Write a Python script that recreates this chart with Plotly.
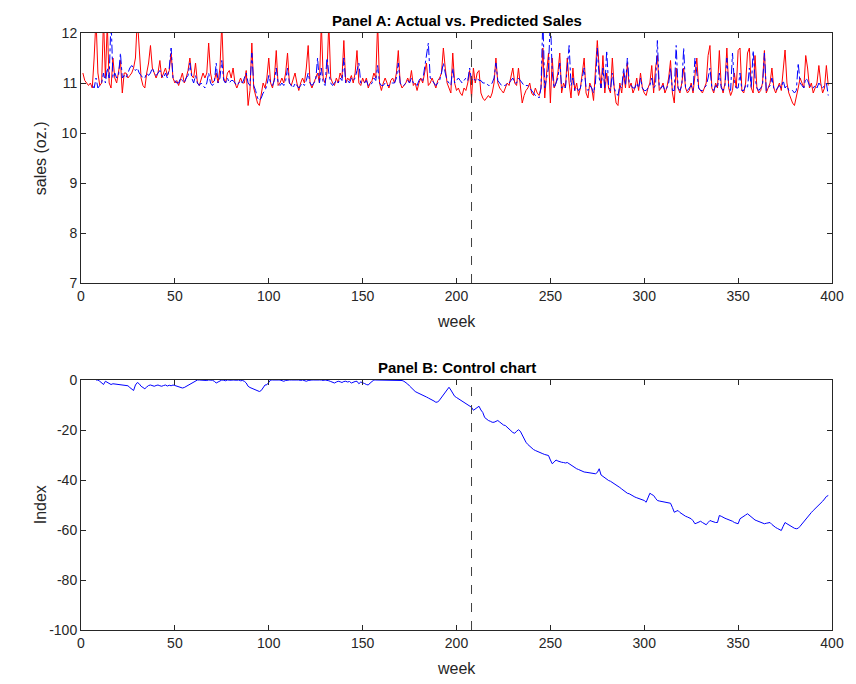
import plotly.graph_objects as go

# ---------------- data ----------------
actual_start = 1
actual = [
    11.2, 11.05, 11.0, 10.95, 11.0, 10.9, 11.5, 12.3, 11.2, 10.95,
    11.0, 12.3, 11.1, 12.2, 11.0, 10.9, 11.5, 11.1, 11.0, 11.2,
    11.45, 10.8, 11.2, 11.2, 11.1, 11.15, 11.2, 11.3, 11.5, 12.3,
    11.6, 11.1, 10.95, 10.9, 11.2, 11.4, 11.75, 11.3, 11.2, 11.1,
    11.2, 11.45, 11.1, 11.2, 11.3, 11.15, 11.25, 11.6, 11.1, 11.0,
    11.05, 10.95, 11.1, 11.2, 11.0, 11.1, 11.25, 11.5, 11.15, 11.1,
    11.4, 11.0, 10.95, 11.1, 11.2, 11.1, 11.2, 11.8, 11.2, 11.0,
    11.05, 11.2, 11.0, 11.3, 12.2, 11.1, 11.0, 11.2, 11.25, 11.1,
    11.3, 11.0, 10.9, 11.0, 11.1, 11.0, 11.0, 11.25, 10.55, 10.85,
    11.8, 10.9, 10.75, 10.6, 10.55, 10.8, 11.0, 10.9, 11.1, 11.5,
    11.0, 10.9, 11.1, 11.65, 10.95, 11.0, 11.1, 11.0, 11.2, 11.6,
    11.0, 10.95, 11.1, 11.2, 11.0, 10.85, 11.0, 11.1, 11.0, 11.3,
    11.75, 11.0, 10.9, 11.0, 11.1, 11.2, 11.0, 12.2, 11.1, 11.0,
    11.2, 12.2, 11.1, 11.0, 10.95, 11.1, 11.0, 11.2, 11.1, 11.85,
    11.0, 11.1, 11.05, 11.15, 11.0, 11.2, 11.65, 11.0, 10.95, 11.1,
    11.0, 11.1, 10.9, 11.0, 11.05, 11.2, 11.1, 12.2, 11.0, 10.85,
    11.0, 11.1, 11.0, 10.9, 11.05, 11.1, 11.0, 11.2, 11.65, 11.0,
    10.9, 10.95, 11.0, 11.1, 11.0, 11.25, 10.95, 11.0, 10.85, 11.0,
    11.1, 11.0, 11.2, 11.4, 10.95, 11.0, 11.1, 11.0, 10.9, 11.05,
    11.1, 11.2, 11.7, 11.3, 11.0, 10.9, 10.8, 11.6, 11.0, 10.85,
    10.9, 10.8, 10.75, 10.9, 10.85, 11.0, 11.25, 10.7, 11.3, 11.0,
    11.2, 11.25, 10.8, 10.7, 10.65, 10.7, 10.75, 10.7, 10.8, 11.0,
    11.5, 11.0, 10.9, 10.85, 10.8, 10.9, 11.0, 10.95, 11.1, 11.3,
    11.0, 10.95, 11.3, 10.9, 10.6, 10.75, 10.85, 10.9, 11.0, 10.8,
    10.75, 10.9, 10.8, 10.75, 10.9, 11.7, 10.7, 11.2, 11.6, 10.6,
    11.5, 10.9, 11.0, 11.2, 11.6, 10.8, 11.0, 10.9, 11.5, 11.0,
    10.7, 11.3, 10.85, 11.0, 10.75, 10.9, 11.2, 11.5, 10.8, 10.7,
    11.0, 10.9, 10.65, 11.2, 11.85, 11.3, 10.9, 11.55, 10.8, 11.2,
    10.9, 10.8, 11.5, 10.9, 10.6, 10.55, 11.0, 10.8, 11.2, 10.9,
    11.4, 10.9, 11.0, 10.8, 10.9, 11.1, 10.85, 11.2, 10.9, 10.8,
    10.75, 10.9, 11.0, 11.35, 10.8, 11.3, 11.55, 10.85, 10.9, 11.0,
    10.8, 10.9, 11.1, 11.45, 10.8, 10.6, 11.3, 10.9, 10.8, 11.0,
    11.3, 10.9, 10.8, 10.85, 11.0, 10.8, 11.2, 11.5, 10.9, 10.85,
    10.8, 10.9, 11.0, 11.55, 11.75, 10.9, 10.8, 11.0, 10.9, 11.65,
    10.95, 10.8, 11.0, 11.7, 10.9, 10.75, 10.85, 11.2, 10.9, 11.65,
    11.7, 10.85, 10.8, 11.0, 11.6, 11.7, 10.9, 10.8, 11.55, 10.9,
    10.8, 10.85, 11.0, 11.65, 10.8, 10.9, 11.0, 11.3, 10.9, 10.8,
    10.9, 11.0, 10.85, 11.3, 11.66, 11.0, 10.8, 10.7, 10.6, 10.55,
    10.7, 10.9, 11.1, 11.0, 10.9, 11.55, 11.3, 10.9, 11.0, 10.8,
    10.9, 11.0, 11.35, 11.0, 10.8, 10.9, 11.35, 10.95,
]

predicted_start = 6
predicted = [
    10.95, 10.9, 11.1, 10.9, 10.95,
    11.0, 11.2, 11.0, 11.3, 11.1, 12.3, 11.1, 11.2, 11.1, 11.15,
    11.6, 11.1, 11.15, 11.1, 11.2, 11.3, 11.35, 11.3, 11.25, 11.3,
    11.2, 11.15, 11.1, 11.1, 11.2, 11.15, 11.2, 11.3, 11.2, 11.15,
    11.2, 11.25, 11.15, 11.1, 11.2, 11.1, 11.3, 11.7, 11.1, 11.05,
    11.0, 11.0, 11.1, 11.05, 11.0, 11.1, 11.15, 11.4, 11.1, 11.0,
    11.15, 11.0, 10.95, 11.0, 10.95, 10.9, 11.0, 11.2, 11.0, 10.95,
    11.0, 11.4, 11.0, 11.1, 11.45, 11.05, 11.0, 11.1, 11.0, 11.05,
    11.05, 11.0, 10.95, 11.0, 11.05, 11.0, 11.1, 11.2, 11.0, 10.95,
    11.6, 10.95, 10.85, 10.7, 10.65, 10.7, 10.8, 10.85, 10.95, 11.15,
    11.0, 10.95, 11.05, 11.3, 11.0, 10.95, 11.0, 10.95, 11.05, 11.3,
    11.0, 10.95, 10.9, 11.0, 10.95, 10.9, 10.95, 11.0, 10.95, 11.05,
    11.2, 11.0, 10.95, 11.0, 11.05, 11.5, 11.0, 11.3, 11.0, 10.95,
    11.5, 11.2, 11.0, 10.95, 11.0, 11.05, 11.0, 11.1, 11.05, 11.5,
    11.0, 11.05, 11.0, 11.1, 11.05, 11.1, 11.25, 11.4, 11.0, 11.0,
    11.0, 11.05, 10.95, 10.95, 11.0, 11.1, 11.05, 11.35, 11.0, 10.95,
    10.95, 11.0, 10.95, 10.95, 11.0, 11.0, 11.0, 11.1, 11.4, 11.0,
    10.95, 10.95, 11.0, 11.05, 11.0, 11.1, 11.0, 11.0, 10.95, 11.05,
    11.1, 11.05, 11.3, 11.6, 11.8, 11.1, 11.05, 11.0, 10.95, 11.0,
    11.05, 11.2, 11.4, 11.2, 11.05, 11.0, 10.95, 11.3, 11.0, 11.05,
    11.1, 11.05, 11.0, 11.05, 11.1, 11.05, 11.3, 11.05, 11.1, 11.05,
    11.1, 11.05, 11.05, 11.0, 11.0, 11.0, 10.95, 10.95, 11.0, 11.1,
    11.4, 11.05, 11.0, 10.95, 10.95, 10.95, 11.0, 11.0, 11.05, 11.1,
    11.0, 11.0, 11.1, 11.05, 11.0, 10.95, 10.95, 10.95, 10.9, 10.85,
    10.8, 10.75, 10.75, 10.7, 10.9, 12.3, 10.9, 11.1, 11.3, 12.3,
    11.2, 10.9, 11.0, 11.1, 11.4, 10.9, 10.95, 10.9, 11.3, 11.75,
    10.95, 11.1, 10.85, 10.9, 10.85, 10.9, 11.1, 11.3, 10.9, 10.85,
    10.95, 10.9, 10.8, 11.0, 11.7, 11.1, 10.9, 11.3, 10.9, 11.65,
    10.95, 10.85, 11.2, 10.9, 10.8, 10.75, 10.95, 10.9, 11.3, 10.95,
    11.5, 11.0, 10.95, 10.9, 10.9, 11.0, 10.9, 11.1, 10.9, 10.85,
    10.85, 10.9, 10.95, 11.1, 10.9, 10.95, 11.85, 10.9, 10.9, 10.95,
    10.85, 10.9, 11.0, 11.3, 10.85, 10.85, 11.75, 10.9, 10.85, 10.95,
    11.7, 10.9, 10.85, 10.9, 10.95, 10.85, 11.5, 11.2, 10.9, 10.85,
    10.85, 10.9, 10.95, 11.1, 11.3, 10.9, 10.85, 10.95, 10.9, 11.2,
    10.9, 10.85, 10.95, 11.5, 10.9, 10.85, 11.6, 11.0, 10.9, 10.9,
    11.2, 10.85, 10.85, 10.95, 10.9, 11.3, 10.9, 11.65, 11.1, 10.9,
    10.85, 10.9, 10.95, 11.6, 10.85, 10.9, 10.95, 11.1, 10.9, 10.85,
    10.9, 10.95, 10.9, 11.05, 10.9, 10.95, 10.85, 10.85, 10.85, 10.8,
    10.85, 11.4, 11.0, 10.95, 10.9, 11.1, 11.05, 10.95, 10.9, 10.9,
    10.95, 10.9, 11.0, 10.95, 10.9, 10.95, 11.0, 10.75,
]

control_start = 8
control = [
    0, 0, -0.5, -1, -1.8, -0.5, -1, -1.5, -1.8, -1.5, -1.6, -1.8, -1.7,
    -1.8, -2, -2.2, -2.3, -2.3, -3, -3.8, -4.2, -2, -1,
    -1.5, -2.5, -3, -3.5, -2.8, -2.2, -2, -2.2, -2.5, -2.2,
    -2, -2.3, -2.5, -2.2, -2, -2.4, -2.1, -2.3, -2, -2.2,
    -2.5, -2.8, -3, -3.2, -3, -2.6, -2.2, -1.6, -1.2, -0.8,
    -0.3, 0, 0, -0.1, 0, 0, -0.2, 0, 0, -0.1,
    -0.5, -1.2, -0.8, -0.4, 0, -0.1, -0.3, 0, -0.2, -0.1,
    0, -0.2, -0.1, 0, -0.3, -0.2, -0.5, -1.2, -2.5, -3,
    -3.3, -3.6, -4, -4.4, -4.6, -4.2, -3.2, -2, -1.9, -0.8,
    0, 0, -0.1, 0, 0, 0, -0.3, -0.5, -0.2, 0,
    0, 0, -0.1, 0, 0, 0, -0.2, 0, -0.3, -0.5,
    -0.2, 0, 0, 0, -0.1, 0, 0, 0, -0.2, 0,
    0, -0.3, -0.6, -1, -1.2, -0.8, -0.5, -0.7, -1, -0.6,
    -0.5, -0.8, -0.6, -1.2, -0.8, -0.6, -0.5, -1.5, -0.8, -1,
    -1.4, -1.8, -2, -1.2, -0.5, 0, 0, 0, -0.2, 0,
    0, -0.1, 0, 0, -0.2, 0, 0, 0, 0, 0,
    -0.2, -0.5, -1, -1.6, -2.4, -3.2, -4, -4.6, -5, -5.3,
    -5.6, -6, -6.3, -6.8, -7.2, -7.5, -8, -8.4, -8.9, -8.8,
    -8, -7, -6, -5, -3.6, -2.9, -4, -5.5, -6.5, -7,
    -7.5, -8, -8.5, -8.9, -9.5, -10, -10.5, -10.9, -12.1, -11.5,
    -11, -10.5, -12, -13, -15, -15.8, -16.2, -16.5, -16.9, -16.9,
    -16.5, -16.2, -16.8, -17.5, -18, -18.2, -18.8, -19.5, -20.3, -21,
    -21.3, -20.5, -19.9, -20.5, -22, -23.5, -24.9, -25.8, -26.6, -27.2,
    -27.8, -28.2, -28.6, -29, -29.3, -29.5, -29.8, -30, -30.2, -32,
    -33.5, -32.8, -32, -32.4, -32.8, -32.9, -33, -33.2, -33, -33.5,
    -34, -34.6, -35.2, -35.5, -35.8, -36.2, -36.5, -36.8, -36.9, -37,
    -37.2, -37.4, -37.5, -37.5, -37, -35.5, -38, -38.6, -39.3, -39.8,
    -40.2, -40.5, -41, -41.4, -41.8, -42.2, -43, -43.6, -44.2, -44.8,
    -45.3, -45.5, -46, -46.5, -46.8, -47.1, -47.4, -47.7, -48, -48.2,
    -48.9, -47, -45.3, -45.8, -46.2, -47.3, -48.2, -48.4, -48.6, -48.8,
    -49, -49.1, -49.2, -49.3, -51, -52.9, -52.5, -52.2, -53, -53.6,
    -54.2, -54.5, -54.8, -55.1, -55.5, -56.3, -57.5, -57.2, -56.8, -56.5,
    -57, -57.5, -57.9, -57, -56.2, -56.5, -56.8, -57, -57, -54.2,
    -54.5, -55, -55.3, -55.6, -55.8, -56, -56.5, -57, -57.3, -57.5,
    -55.5, -54.9, -54.5, -54, -53.5, -54.2, -55, -55.5, -56, -56.3,
    -56.6, -56.9, -57.2, -57.5, -57.3, -57.1, -57, -57.8, -58.5, -59,
    -59.4, -59.8, -60.2, -58.5, -57, -57.5, -58, -58.5, -59, -59.3,
    -59.5, -59.3, -58.5, -57.5, -56.5, -55.5, -54.6, -53.8, -53, -52.2,
    -51.5, -50.8, -50, -49.5, -48.5, -47.6, -46.6, -46.2,
]

break_week = 208
x_ticks = [0, 50, 100, 150, 200, 250, 300, 350, 400]
x_labels = ["0", "50", "100", "150", "200", "250", "300", "350", "400"]
yA_ticks = [7, 8, 9, 10, 11, 12]
yA_labels = ["7", "8", "9", "10", "11", "12"]
yB_ticks = [0, -20, -40, -60, -80, -100]
yB_labels = ["0", "-20", "-40", "-60", "-80", "-100"]

weeks_actual = list(range(actual_start, actual_start + len(actual)))
weeks_pred = list(range(predicted_start, predicted_start + len(predicted)))
weeks_ctrl = list(range(control_start, control_start + len(control)))

# ---------------- figure ----------------
FONT = "Liberation Sans, Arial, Helvetica, sans-serif"
AXC = "#262626"

fig = go.Figure()
fig.add_trace(go.Scatter(x=weeks_actual, y=actual, mode="lines",
                         line=dict(color="#ff0000", width=1),
                         xaxis="x", yaxis="y", showlegend=False))
fig.add_trace(go.Scatter(x=weeks_pred, y=predicted, mode="lines",
                         line=dict(color="#0000ff", width=1, dash="dashdot"),
                         xaxis="x", yaxis="y", showlegend=False))
fig.add_trace(go.Scatter(x=weeks_ctrl, y=control, mode="lines",
                         line=dict(color="#0000ff", width=1),
                         xaxis="x2", yaxis="y2", showlegend=False))

L, R, T, B = 81, 19, 33, 54
W = 856 - L - R
H = 684 - T - B
domA = [(630 - 283) / H, 1.0]
domB = [0.0, (630 - 380) / H]

axis_common = dict(
    showline=True, linecolor=AXC, linewidth=1, mirror="ticks",
    ticks="inside", ticklen=5, tickcolor=AXC, tickwidth=1,
    showgrid=False, zeroline=False,
    tickfont=dict(family=FONT, size=14, color=AXC),
)

fig.update_layout(
    width=856, height=684,
    margin=dict(l=L, r=R, t=T, b=B),
    paper_bgcolor="white", plot_bgcolor="white",
    xaxis=dict(domain=[0, 1], range=[0, 400], tickvals=x_ticks, ticktext=x_labels,
               anchor="y", **axis_common),
    yaxis=dict(domain=domA, range=[7, 12], tickvals=yA_ticks, ticktext=yA_labels,
               anchor="x", **axis_common),
    xaxis2=dict(domain=[0, 1], range=[0, 400], tickvals=x_ticks, ticktext=x_labels,
                anchor="y2", **axis_common),
    yaxis2=dict(domain=domB, range=[-100, 0], tickvals=yB_ticks, ticktext=yB_labels,
                anchor="x2", **axis_common),
)

for xr, yr in (("x", "y domain"), ("x2", "y2 domain")):
    fig.add_shape(type="line", xref=xr, yref=yr, x0=break_week, x1=break_week,
                  y0=0, y1=1, line=dict(color="#404040", width=1, dash="dash"))

def ann(text, x, y, size, bold=False, angle=0):
    fig.add_annotation(text=f"<b>{text}</b>" if bold else text,
                       xref="paper", yref="paper", x=x, y=y,
                       showarrow=False, textangle=angle,
                       font=dict(family=FONT, size=size, color="#000000" if bold else AXC),
                       xanchor="center", yanchor="middle")

def py(px):
    return (684 - B - px) / H

def pxx(px):
    return (px - L) / W

ann("Panel A: Actual vs. Predicted Sales", pxx(459), py(20), 15, bold=True)
ann("Panel B: Control chart", pxx(459), py(367), 15, bold=True)
ann("week", pxx(459), py(321), 16)
ann("week", pxx(459), py(668), 16)
ann("sales (oz.)", pxx(40), py(158), 16, angle=-90)
ann("Index", pxx(40), py(505), 16, angle=-90)

fig.write_html("out.html")
